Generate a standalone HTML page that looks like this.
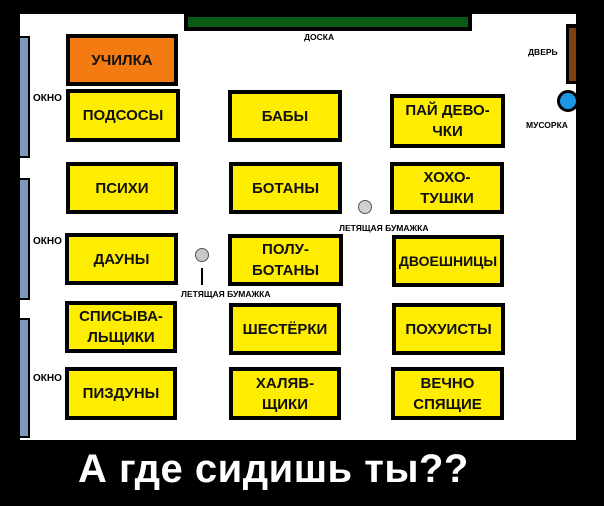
<!DOCTYPE html>
<html><head><meta charset="utf-8"><style>
body{margin:0;width:604px;height:506px;background:#000;position:relative;overflow:hidden;font-family:"Liberation Sans",sans-serif;font-weight:bold}
div{position:absolute;box-sizing:border-box}
.b{background:#ffed00;border:4px solid #000;display:flex;align-items:center;justify-content:center;text-align:center;font-size:15px;line-height:21px;color:#111}
.l{font-size:8.5px;color:#000;white-space:nowrap}
.w{background:#7f97bd;border:2px solid #000;border-left:none;width:10px;left:20px}
</style></head><body>
<div style="left:20px;top:14px;width:556px;height:426px;background:#fff"></div>
<div style="left:184px;top:14px;width:288px;height:17px;background:#000"></div>
<div style="left:188px;top:17px;width:280px;height:10px;background:#0b5a14"></div>
<div class="w" style="top:36px;height:122px"></div>
<div class="w" style="top:178px;height:122px"></div>
<div class="w" style="top:318px;height:120px"></div>
<div style="left:566px;top:24px;width:10px;height:60px;background:#000"></div>
<div style="left:569px;top:28px;width:7px;height:53px;background:#7b3f12"></div>
<div style="left:557px;top:90px;width:22px;height:22px;border-radius:50%;background:#1e96e6;border:3px solid #000"></div>
<div style="left:576px;top:0;width:28px;height:506px;background:#000"></div>
<div class="b" style="left:66px;top:34px;width:112px;height:52px;background:#f37b12">УЧИЛКА</div>
<div class="b" style="left:66px;top:89px;width:114px;height:53px">ПОДСОСЫ</div>
<div class="b" style="left:228px;top:90px;width:114px;height:52px">БАБЫ</div>
<div class="b" style="left:390px;top:94px;width:115px;height:54px">ПАЙ ДЕВО-<br>ЧКИ</div>
<div class="b" style="left:66px;top:162px;width:112px;height:52px">ПСИХИ</div>
<div class="b" style="left:229px;top:162px;width:113px;height:52px">БОТАНЫ</div>
<div class="b" style="left:390px;top:162px;width:114px;height:52px">ХОХО-<br>ТУШКИ</div>
<div class="b" style="left:65px;top:233px;width:113px;height:52px">ДАУНЫ</div>
<div class="b" style="left:228px;top:234px;width:115px;height:52px">ПОЛУ-<br>БОТАНЫ</div>
<div class="b" style="left:392px;top:235px;width:112px;height:52px;font-size:14px">ДВОЕШНИЦЫ</div>
<div class="b" style="left:65px;top:301px;width:112px;height:52px">СПИСЫВА-<br>ЛЬЩИКИ</div>
<div class="b" style="left:229px;top:303px;width:112px;height:52px">ШЕСТЁРКИ</div>
<div class="b" style="left:392px;top:303px;width:113px;height:52px">ПОХУИСТЫ</div>
<div class="b" style="left:65px;top:367px;width:112px;height:53px">ПИЗДУНЫ</div>
<div class="b" style="left:229px;top:367px;width:112px;height:53px">ХАЛЯВ-<br>ЩИКИ</div>
<div class="b" style="left:391px;top:367px;width:113px;height:53px">ВЕЧНО<br>СПЯЩИЕ</div>
<div style="left:195px;top:248px;width:14px;height:14px;border-radius:50%;background:#c8c8c8;border:1px solid #555"></div>
<div style="left:201px;top:268px;width:2px;height:17px;background:#000"></div>
<div style="left:358px;top:200px;width:14px;height:14px;border-radius:50%;background:#d0d0d0;border:1px solid #555"></div>
<div class="l" style="left:181px;top:289px">ЛЕТЯЩАЯ БУМАЖКА</div>
<div class="l" style="left:339px;top:223px">ЛЕТЯЩАЯ БУМАЖКА</div>
<div class="l" style="left:304px;top:32px">ДОСКА</div>
<div class="l" style="left:528px;top:47px">ДВЕРЬ</div>
<div class="l" style="left:526px;top:120px">МУСОРКА</div>
<div class="l" style="left:33px;top:93px;font-size:10px">ОКНО</div>
<div class="l" style="left:33px;top:236px;font-size:10px">ОКНО</div>
<div class="l" style="left:33px;top:373px;font-size:10px">ОКНО</div>
<div style="left:78px;top:444px;font-size:40px;color:#fff;white-space:nowrap;line-height:50px;letter-spacing:0.5px">А где сидишь ты??</div>
</body></html>
